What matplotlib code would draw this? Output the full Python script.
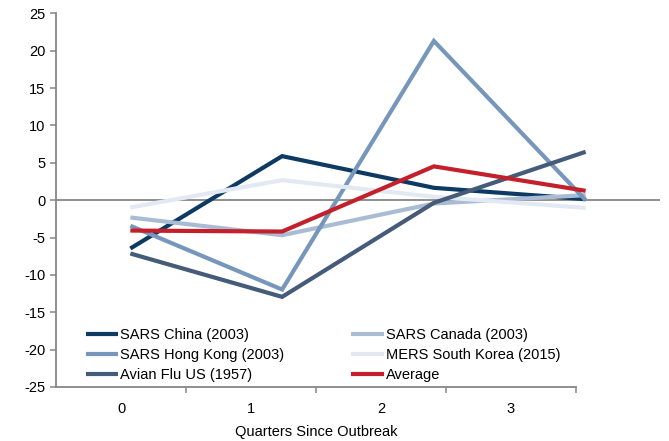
import numpy as np
import matplotlib
matplotlib.use('Agg')
import matplotlib.pyplot as plt

plt.rcParams['font.family'] = ['Liberation Sans', 'DejaVu Sans']
plt.rcParams['axes.unicode_minus'] = False

quarters = [0, 1, 2, 3]
quarter_labels = ['0', '1', '2', '3']

sars_china = [-6.47, 5.89, 1.65, 0.13]
sars_canada = [-2.32, -4.69, -0.45, 0.67]
sars_hk = [-3.43, -11.96, 21.3, 0.0]
mers_korea = [-0.98, 2.68, 0.45, -1.03]
avian_flu = [-7.14, -12.94, -0.36, 6.47]
average = [-4.07, -4.2, 4.52, 1.25]

W, H = 669, 441
fig = plt.figure(figsize=(W / 100, H / 100), dpi=100)

# plot area in pixels
left, right, top, bottom = 56, 660, 13.3, 387
ax = fig.add_axes([left / W, 1 - bottom / H, (right - left) / W, (bottom - top) / H])
ax.set_xlim(-0.49, 3.49)
ax.set_ylim(-25, 25)
ax.set_yticks(np.arange(-25, 26, 5))
ax.set_xticks([])
for s in ['top', 'right', 'bottom']:
    ax.spines[s].set_visible(False)
ax.spines['left'].set_color('#868686')
ax.spines['left'].set_linewidth(1.3)
ax.tick_params(axis='y', direction='out', length=4.5, width=1.1, color='#868686',
               labelsize=10.5, pad=3)
ax.axhline(0, color='#868686', lw=1.3, zorder=1)
ax.patch.set_alpha(0)

series = [
    ('SARS China (2003)', sars_china, '#0c3a62'),
    ('SARS Canada (2003)', sars_canada, '#a9bcd4'),
    ('SARS Hong Kong (2003)', sars_hk, '#7697bb'),
    ('MERS South Korea (2015)', mers_korea, '#e3e9f3'),
    ('Avian Flu US (1957)', avian_flu, '#445b79'),
    ('Average', average, '#c4202b'),
]
lines = {}
for name, vals, col in series:
    ln, = ax.plot(quarters, vals, color=col, lw=3, label=name, zorder=3,
                  solid_joinstyle='miter', solid_capstyle='butt')
    lines[name] = ln

order = ['SARS China (2003)', 'SARS Hong Kong (2003)', 'Avian Flu US (1957)',
         'SARS Canada (2003)', 'MERS South Korea (2015)', 'Average']
fig.legend([lines[n] for n in order], order, ncol=2, loc='upper left',
           bbox_to_anchor=(86 / W, 1 - 328 / H), frameon=False, fontsize=10.5,
           handlelength=2.2, handletextpad=0.15, columnspacing=4.6,
           labelspacing=0.4, borderpad=0, borderaxespad=0)

# category axis along the bottom
axb = fig.add_axes([left / W, 1 - bottom / H, (576 - left) / W, (bottom - top) / H])
axb.set_xlim(-0.5, 3.5)
axb.set_ylim(0, 1)
axb.patch.set_alpha(0)
for s in ['top', 'right', 'left']:
    axb.spines[s].set_visible(False)
axb.spines['bottom'].set_color('#868686')
axb.spines['bottom'].set_linewidth(1.3)
axb.set_yticks([])
axb.set_xticks([0.5, 1.5, 2.5, 3.5])
axb.set_xticklabels([])
axb.tick_params(axis='x', which='major', direction='out', length=4.5, width=1.1,
                color='#868686')
axb.set_xticks(quarters, minor=True)
axb.set_xticklabels(quarter_labels, minor=True)
axb.tick_params(axis='x', which='minor', length=0, labelsize=10.5, pad=11)
axb.set_xlabel('Quarters Since Outbreak', fontsize=10.5, labelpad=6)

fig.savefig('out.png', dpi=100)
